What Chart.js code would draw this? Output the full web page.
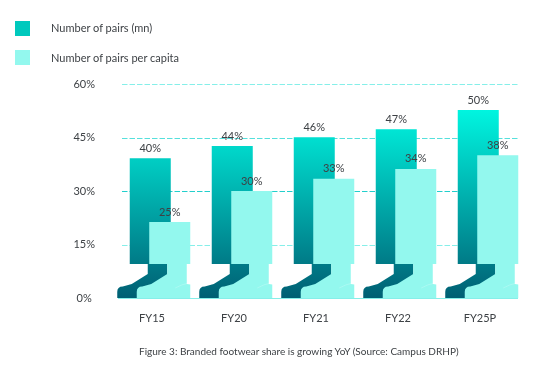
<!DOCTYPE html>
<html lang="en">
  <head>
    <meta charset="UTF-8" />
    <title>Branded footwear share</title>
    <script src="https://cdn.jsdelivr.net/npm/chart.js"></script>
    <style>
      body { margin: 0; background: #fff; font-family: Lato, sans-serif; color: #3d4145; }
      #wrap { position: relative; width: 555px; height: 371px; overflow: hidden; }
      .swatch { position: absolute; left: 15px; width: 15px; height: 15px; }
      .legend-text { position: absolute; left: 51px; font-size: 11px; line-height: 14px; white-space: nowrap; }
      #caption { position: absolute; left: 139px; top: 345px; font-size: 10px; line-height: 13px; white-space: nowrap; }
    </style>
  </head>

  <body>
    <div id="wrap">
      <canvas id="chart" width="555" height="371"></canvas>
      <div class="swatch" style="top: 21px; background: #00c9bd"></div>
      <div class="legend-text" style="top: 21px">Number of pairs (mn)</div>
      <div class="swatch" style="top: 50px; background: #93f8ee"></div>
      <div class="legend-text" style="top: 51px">Number of pairs per capita</div>
      <div id="caption">Figure 3: Branded footwear share is growing YoY (Source: Campus DRHP)</div>
    </div>

    <script>
      const categories = ["FY15", "FY20", "FY21", "FY22", "FY25P"];
      const seriesNames = ["Number of pairs (mn)", "Number of pairs per capita"];
      // bar heights, the printed labels do not always agree with them
      const pairsHeights = [39.2, 42.6, 45.1, 47.3, 52.7];
      const perCapitaHeights = [21.3, 30, 33.4, 36.2, 40];
      const pairsLabels = ["40%", "44%", "46%", "47%", "50%"];
      const perCapitaLabels = ["25%", "30%", "33%", "34%", "38%"];
      const yTicks = [0, 15, 30, 45, 60];
      const gridColors = { 0: "#86efe9", 15: "#86efe9", 30: "#22cfcc", 45: "#55e0dc", 60: "#86efe9" };

      const TEXT = "#3d4145";
      const LIGHT = "#93f8ee";

      // bar with a boot at the foot, same outline for both series
      function bootPath(ctx, el) {
        const l = el.x - el.width / 2;
        const r = el.x + el.width / 2;
        const b = el.base;
        ctx.beginPath();
        ctx.moveTo(l, el.y);
        ctx.lineTo(r, el.y);
        ctx.lineTo(r, b - 34);
        ctx.lineTo(r - 3.5, b - 34);
        ctx.lineTo(r - 3.5, b - 14);
        ctx.lineTo(r, b - 13.5);
        ctx.lineTo(r, b);
        ctx.lineTo(l - 12.5, b);
        ctx.lineTo(l - 12.5, b - 6);
        ctx.quadraticCurveTo(l - 12.5, b - 11.5, l - 7, b - 11.5);
        ctx.lineTo(l + 2, b - 14);
        ctx.lineTo(l + 18, b - 24);
        ctx.lineTo(l + 18, b - 34);
        ctx.lineTo(l, b - 34);
        ctx.closePath();
      }

      const footwearPlugin = {
        id: "footwear",
        beforeDatasetsDraw(chart) {
          const { ctx, scales } = chart;
          const y = scales.y;
          const left = chart.chartArea.left + 3;
          const right = chart.chartArea.right - 11;

          // dashed grid
          yTicks.forEach((v) => {
            const py = Math.round(y.getPixelForValue(v)) + 0.5;
            ctx.save();
            ctx.strokeStyle = gridColors[v];
            ctx.lineWidth = 1;
            ctx.setLineDash(v === 0 ? [] : [5.5, 2]);
            ctx.beginPath();
            ctx.moveTo(v === 0 ? left - 4 : left, py);
            ctx.lineTo(right, py);
            ctx.stroke();
            ctx.restore();
          });

          const grad = ctx.createLinearGradient(0, y.getPixelForValue(52.7), 0, y.getPixelForValue(0));
          grad.addColorStop(0, "#00f5e0");
          grad.addColorStop(1, "#005f73");

          chart.getDatasetMeta(0).data.forEach((el) => {
            bootPath(ctx, el);
            ctx.fillStyle = grad;
            ctx.fill();
          });
          chart.getDatasetMeta(1).data.forEach((el) => {
            bootPath(ctx, el);
            ctx.fillStyle = LIGHT;
            ctx.fill();
            // faint sole line
            const r = el.x + el.width / 2;
            ctx.beginPath();
            ctx.moveTo(r - 15, el.base - 10);
            ctx.quadraticCurveTo(r - 8, el.base - 14, r - 1, el.base - 15);
            ctx.strokeStyle = "rgba(255,255,255,0.3)";
            ctx.lineWidth = 0.7;
            ctx.stroke();
          });

          // labels above the bars
          ctx.save();
          ctx.font = "11px Lato, sans-serif";
          ctx.fillStyle = TEXT;
          ctx.textAlign = "center";
          ctx.textBaseline = "middle";
          [pairsLabels, perCapitaLabels].forEach((labels, i) => {
            chart.getDatasetMeta(i).data.forEach((el, j) => {
              ctx.fillText(labels[j], el.x, el.y - 10);
            });
          });
          ctx.restore();
          return false;
        },
      };

      new Chart(document.getElementById("chart"), {
        type: "bar",
        plugins: [footwearPlugin],
        data: {
          labels: categories,
          datasets: [
            { label: seriesNames[0], data: pairsHeights, backgroundColor: "#00c9bd" },
            { label: seriesNames[1], data: perCapitaHeights, backgroundColor: LIGHT },
          ],
        },
        options: {
          responsive: false,
          animation: false,
          categoryPercentage: 0.4756,
          barPercentage: 2.103,
          layout: { padding: { top: 84, right: 26, left: 0, bottom: 0 } },
          plugins: { legend: { display: false }, tooltip: { enabled: false } },
          scales: {
            x: {
              grid: { display: false },
              border: { display: false },
              afterFit: (s) => { s.height = 73; },
              ticks: { color: TEXT, font: { family: "Lato", size: 11 }, padding: 6, labelOffset: -8, maxRotation: 0 },
            },
            y: {
              min: 0,
              max: 60,
              grid: { display: false },
              border: { display: false },
              afterFit: (s) => { s.width = 119; },
              afterBuildTicks: (s) => { s.ticks = yTicks.map((v) => ({ value: v })); },
              ticks: {
                color: TEXT,
                font: { family: "Lato", size: 11 },
                padding: 16,
                crossAlign: "center",
                callback: (v) => v + "%",
              },
            },
          },
        },
      });
    </script>
  </body>
</html>
